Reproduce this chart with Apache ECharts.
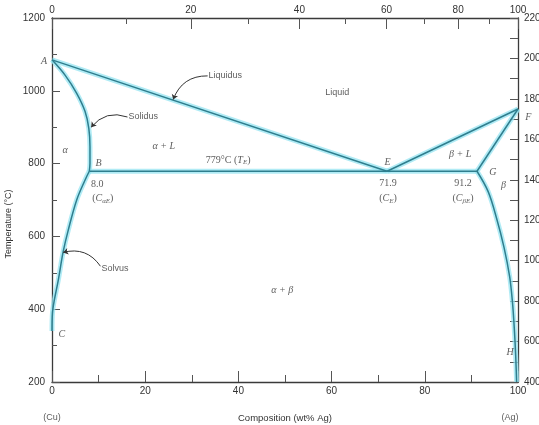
<!DOCTYPE html>
<html><head><meta charset="utf-8">
<script src="https://cdn.jsdelivr.net/npm/echarts@6/dist/echarts.min.js"></script>
<style>html,body{margin:0;padding:0;background:#fff}#c{width:539px;height:425px}</style>
</head><body><div id="c"></div>
<script>
// ---- data (composition wt% Ag, temperature °C) ----
const liquidusAE = [[0, 1085], [71.9, 779]];
const liquidusEF = [[71.9, 779], [100, 950]];
const solidusAlpha = [[0, 1085], [2.8, 1043], [5.3, 993], [7.1, 943], [7.9, 897], [8.15, 846], [8.15, 801], [8.0, 779]];
const solidusBeta = [[100, 950], [91.2, 779]];
const eutecticLine = [[8.0, 779], [91.2, 779]];
const solvusAlpha = [[8.0, 779], [7.1, 755], [5.3, 700], [3.5, 618], [2.4, 558], [1.35, 480], [0.5, 425], [0.1, 390], [0, 340]];
const solvusBeta = [[91.2, 779], [93.6, 723], [95.4, 650], [97.0, 570], [98.2, 490], [98.8, 421], [99.2, 348], [99.5, 274], [99.7, 200]];

const bottomTicks = [0, 20, 40, 60, 80, 100];           // wt% Ag
const topMajorAt = [0, 20, 40, 60, 80, 100];            // at% Ag
const topMinorAt = [10, 30, 50, 70, 90];                // at% Ag
const leftTicks = [200, 400, 600, 800, 1000, 1200];     // °C
const rightTicks = [400, 600, 800, 1000, 1200, 1400, 1600, 1800, 2000, 2200]; // °F

// annotation texts: [wt% Ag, °C, text, style]
const labels = [
  [-1.7, 1082, 'A', 'it'], [10.0, 800, 'B', 'it'], [2.1, 330, 'C', 'it'],
  [72.0, 803, 'E', 'it'], [102.2, 928, 'F', 'it'], [94.6, 776, 'G', 'it'],
  [98.3, 282, 'H', 'it'], [2.8, 837, 'α', 'it'], [96.9, 740, 'β', 'it'],
  [24.0, 848, 'α + L', 'it'], [87.6, 824, 'β + L', 'it'], [49.4, 453, 'α + β', 'it'],
  [61.2, 994, 'Liquid', 'sans'],
  [37.8, 810, '779°C ({i|T}{s|E})', 'serif'],
  [9.7, 744, '8.0', 'serif'], [10.9, 704, '({i|C}{s|αE})', 'serif'],
  [72.1, 747, '71.9', 'serif'], [72.1, 705, '({i|C}{s|E})', 'serif'],
  [88.2, 747, '91.2', 'serif'], [88.2, 705, '({i|C}{s|βE})', 'serif'],
  [0, 103, '(Cu)', 'sans'], [98.3, 103, '(Ag)', 'sans']
];
const leaderTexts = [[33.6, 1041, 'Liquidus'], [16.4, 928, 'Solidus'], [10.6, 513, 'Solvus']];
const leaders = [
  [[33.4, 1041], [26.0, 976]],
  [[16.2, 928], [8.4, 900]],
  [[10.4, 518], [2.4, 556]]
];

// ---- helpers ----
const M_CU = 63.55, M_AG = 107.87;
const atToWt = a => a * M_AG / (a * M_AG + (100 - a) * M_CU) * 100;
const wtToAt = w => (w / M_AG) / (w / M_AG + (100 - w) / M_CU) * 100;

const chart = echarts.init(document.getElementById('c'), null, {renderer: 'canvas'});
const AXC = '#3a3a3a', TXT = '#333', TICK = '#555';
const HALO = 'rgba(150,228,242,0.75)', CORE = '#2f7e8e';

const curves = [
  [liquidusAE, false], [liquidusEF, false], [solidusAlpha, 0.35], [solidusBeta, false],
  [eutecticLine, false], [solvusAlpha, 0.35], [solvusBeta, 0.35]
];
const series = [];
curves.forEach(([d, sm]) => {
  series.push({type: 'line', data: d, smooth: sm, showSymbol: false, silent: true, z: 2,
    lineStyle: {color: HALO, width: 5}});
});
curves.forEach(([d, sm]) => {
  series.push({type: 'line', data: d, smooth: sm, showSymbol: false, silent: true, z: 3,
    lineStyle: {color: CORE, width: 1.5}});
});

const rich = {
  i: {fontFamily: 'Liberation Serif', fontStyle: 'italic', fontSize: 10, color: TXT},
  s: {fontFamily: 'Liberation Serif', fontStyle: 'italic', fontSize: 7, color: TXT, padding: [5, 0, 0, 0]}
};
const HIDDEN = {color: 'rgba(0,0,0,0)'};
series.push({
  type: 'scatter', clip: false, silent: true, z: 5, symbolSize: 1, itemStyle: HIDDEN,
  data: labels.map(l => ({
    value: [l[0], l[1]],
    label: {show: true, position: 'inside', formatter: l[2], color: TXT,
      fontFamily: l[3] === 'sans' ? 'Liberation Sans' : 'Liberation Serif',
      fontStyle: l[3] === 'it' ? 'italic' : 'normal',
      fontSize: l[3] === 'sans' ? 9 : 10, rich: rich}
  }))
});
series.push({
  type: 'scatter', clip: false, silent: true, z: 5, symbolSize: 1, itemStyle: HIDDEN,
  data: leaderTexts.map(l => ({value: [l[0], l[1]],
    label: {show: true, position: 'inside', align: 'left', formatter: l[2], color: TXT,
      fontFamily: 'Liberation Sans', fontSize: 9}}))
});
series.push({
  type: 'lines', coordinateSystem: 'cartesian2d', silent: true, z: 6,
  symbol: ['none', 'arrow'], symbolSize: 5,
  lineStyle: {color: '#333', width: 1, curveness: -0.35, opacity: 1},
  data: leaders.map(c => ({coords: c}))
});

const plain = v => String(v);
chart.setOption({
  animation: false,
  grid: {left: 52, right: 21, top: 18, bottom: 43, outerBoundsMode: 'none', containLabel: false},
  xAxis: [
    {type: 'value', position: 'bottom', min: 0, max: 100, interval: 20,
      name: 'Composition (wt% Ag)', nameLocation: 'middle', nameGap: 31,
      nameTextStyle: {fontFamily: 'Liberation Sans', fontSize: 9.5, color: TXT},
      axisLine: {onZero: false, lineStyle: {color: AXC, width: 1.3}},
      axisTick: {show: true, inside: true, length: 11, lineStyle: {color: TICK}},
      minorTick: {show: true, splitNumber: 2, length: 7, lineStyle: {color: TICK}},
      splitLine: {show: false}, minorSplitLine: {show: false},
      axisLabel: {margin: 4, formatter: plain, fontFamily: 'Liberation Sans', fontSize: 10, color: TXT}},
    {type: 'value', position: 'top', min: 0, max: 100,
      axisLine: {show: true, onZero: false, lineStyle: {color: AXC, width: 1.3}},
      axisTick: {show: true, inside: true, length: 11, customValues: topMajorAt.map(atToWt), lineStyle: {color: TICK}},
      axisLabel: {show: true, margin: 3, customValues: topMajorAt.map(atToWt),
        formatter: v => String(Math.round(wtToAt(v))), fontFamily: 'Liberation Sans', fontSize: 10, color: TXT},
      splitLine: {show: false}},
    {type: 'value', position: 'top', min: 0, max: 100,
      axisLine: {show: false, onZero: false},
      axisTick: {show: true, inside: true, length: 6, customValues: topMinorAt.map(atToWt), lineStyle: {color: TICK}},
      axisLabel: {show: false}, splitLine: {show: false}}
  ],
  yAxis: [
    {type: 'value', position: 'left', min: 200, max: 1200, interval: 200,
      axisLine: {show: true, onZero: false, lineStyle: {color: AXC, width: 1.3}},
      axisTick: {show: true, inside: true, length: 8, lineStyle: {color: TICK}},
      minorTick: {show: true, splitNumber: 2, length: 5, lineStyle: {color: TICK}},
      splitLine: {show: false}, minorSplitLine: {show: false},
      axisLabel: {margin: 7, formatter: plain, fontFamily: 'Liberation Sans', fontSize: 10, color: TXT}},
    {type: 'value', position: 'right', min: 400, max: 2200, interval: 200,
      axisLine: {show: true, onZero: false, lineStyle: {color: AXC, width: 1.3}},
      axisTick: {show: true, inside: true, length: 8, lineStyle: {color: TICK}},
      minorTick: {show: true, splitNumber: 2, length: 8, lineStyle: {color: TICK}},
      splitLine: {show: false}, minorSplitLine: {show: false},
      axisLabel: {margin: 6, formatter: plain, fontFamily: 'Liberation Sans', fontSize: 10, color: TXT}}
  ],
  graphic: [{type: 'text', x: 9, y: 224, rotation: Math.PI / 2,
    style: {text: 'Temperature (°C)', textAlign: 'center', textVerticalAlign: 'middle',
      font: '9px "Liberation Sans"', fill: TXT}}],
  series: series
});
</script></body></html>
